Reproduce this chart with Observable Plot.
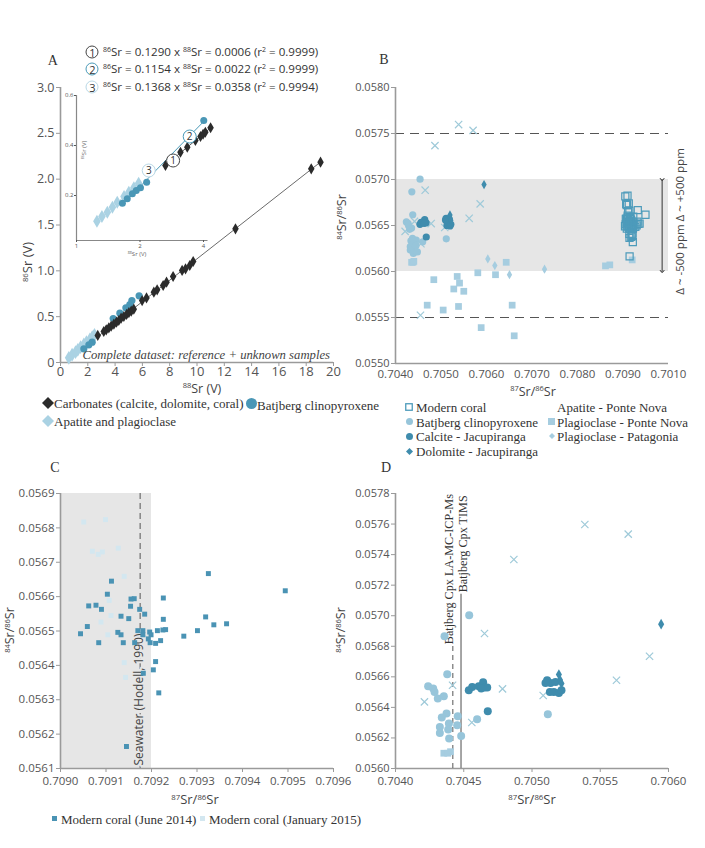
<!DOCTYPE html>
<html><head><meta charset="utf-8">
<script src="https://cdn.jsdelivr.net/npm/d3@7"></script>
<script src="https://cdn.jsdelivr.net/npm/@observablehq/plot@0.6"></script>
<style>
body{margin:0;background:#fff;}
#root{position:relative;width:705px;height:848px;overflow:hidden;font-family:"Open Sans",sans-serif;color:#444;}
.abs{position:absolute;white-space:nowrap;line-height:1;}
sup{font-size:0.6em;vertical-align:0;position:relative;top:-0.55em;}
</style></head><body><div id="root"></div>
<script>
// ---------- Panel A data ----------
const carbX = [2.73,3.17,3.35,3.54,3.71,3.91,4.10,4.27,4.44,4.64,4.84,5.01,5.18,5.37,5.98,6.30,6.84,7.08,7.52,7.77,8.25,8.91,9.16,9.47,9.72,12.82,18.37,19.05];
const carbY = [0.295,0.338,0.356,0.378,0.396,0.418,0.44,0.458,0.484,0.502,0.524,0.545,0.56,0.582,0.676,0.705,0.767,0.793,0.84,0.876,0.938,1.004,1.022,1.058,1.102,1.458,2.113,2.185];
const cpxAX = [1.71,2.08,2.32,3.86,4.35,4.79,5.08,5.23,5.76];
const cpxAY = [0.149,0.193,0.222,0.48,0.538,0.596,0.633,0.676,0.727];
const apAX = [0.61,0.85,1.10,1.27,1.47,1.71,1.90,2.15,2.32,2.49];
const apAY = [0.051,0.084,0.113,0.138,0.167,0.196,0.222,0.251,0.276,0.302];
// inset
const insApX = [1.25,1.32,1.40,1.48,1.56,1.68,1.77,1.87,1.97];
const insApY = [0.097,0.116,0.133,0.153,0.173,0.196,0.213,0.231,0.249];
const insCpxX = [1.65,1.74,1.84,1.92,2.01,2.15,4.01];
const insCpxY = [0.169,0.187,0.207,0.22,0.231,0.253,0.5];
const insCarbX = [2.64,3.11,3.35,3.66,3.87,3.98,4.08,4.32];
const insCarbY = [0.32,0.373,0.393,0.42,0.436,0.445,0.453,0.471];
const insLabelX = [2.87,3.44,2.20];
const insLabelY = [0.34,0.436,0.30];
const eqNums = ["1","2","3"];
const eqSlopes = ["0.1290","0.1154","0.1368"];
const eqInts = ["0.0006","0.0022","0.0358"];
const eqR2 = ["0.9999","0.9999","0.9994"];
const eqColors = ["#444","#4a9ab8","#b9d8e6"];
const xTicksA = [0,2,4,6,8,10,12,14,16,18,20];
const yTicksA = [0,0.5,1.0,1.5,2.0,2.5,3.0];
const insXTicks = [1,2,4];
const insYTicks = [0.2,0.4,0.6];
const insXDom = [1,4.2], insYDom = [0.02,0.6];

// ---------- Panels B / D data ----------
const cpxX = [0.704379,0.704239,0.704276,0.704286,0.70431,0.704354,0.704374,0.704339,0.704456,0.704391,0.704325,0.704386,0.704325,0.704452,0.704393,0.704481,0.704598,0.705116,0.70454,0.704359];
const cpxY = [0.056617,0.056539,0.056524,0.056501,0.056458,0.056473,0.05636,0.056334,0.056342,0.056295,0.056272,0.056255,0.056233,0.056283,0.056196,0.056213,0.056323,0.056355,0.057003,0.056866];
const calX = [0.704537,0.704562,0.70461,0.704642,0.704652,0.704672,0.704628,0.704676,0.705111,0.705136,0.705172,0.705131,0.70516,0.705197,0.705216,0.705099];
const calY = [0.056513,0.056534,0.056539,0.056565,0.05653,0.05653,0.056524,0.056375,0.056578,0.05656,0.056567,0.056501,0.056501,0.056495,0.056513,0.05656];
const dolX = [0.705197,0.705205,0.705216,0.705946];
const dolY = [0.056615,0.05658,0.056556,0.056945];
const apX = [0.705387,0.705705,0.704867,0.704652,0.705861,0.705619,0.704784,0.705082,0.704418,0.704212,0.704559,0.704549];
const apY = [0.057597,0.057534,0.057368,0.056884,0.056735,0.056578,0.056521,0.056478,0.056545,0.056436,0.056301,0.055524];
const plagX = [0.704354,0.704383,0.704403,0.704842,0.704697,0.705048,0.705281,0.705356,0.705407,0.705385,0.705501,0.705809,0.706198,0.705883,0.706564,0.706609,0.706433,0.708615,0.70871,0.709202];
const plagY = [0.0561,0.0561,0.05611,0.055911,0.055634,0.055581,0.05581,0.055946,0.055874,0.05562,0.055785,0.055986,0.055965,0.05539,0.055634,0.055301,0.0561,0.056061,0.056072,0.056126];
const patX = [0.706029,0.706183,0.706505,0.707275];
const patY = [0.056137,0.056065,0.055965,0.056025];
const bandB = [0.0560,0.0570];
const dashB = [0.0555,0.0575];
const arrowXB = 0.70986;
const xDomB = [0.704,0.710], yDomB = [0.055,0.058];
const xTicksB = [0.704,0.705,0.706,0.707,0.708,0.709,0.710];
const xTickLabelsB = ["0.7040","0.7050","0.7060","0.7070","0.7080","0.7090","0.7010"];
const yTicksB = [0.0550,0.0555,0.0560,0.0565,0.0570,0.0575,0.0580];
const xDomD = [0.704,0.706], yDomD = [0.056,0.0578];
const xTicksD = [0.704,0.7045,0.705,0.7055,0.706];
const yTicksD = [0.0560,0.0562,0.0564,0.0566,0.0568,0.0570,0.0572,0.0574,0.0576,0.0578];
const cpxLA = 0.70442, cpxTIMS = 0.70448;
const labelLAY = 0.056807, labelTIMSY = 0.05714;

// ---------- Panel C data ----------
const juneX = [0.709044,0.709059,0.709062,0.709078,0.70909,0.709084,0.709103,0.709112,0.709126,0.709133,0.709133,0.709138,0.70915,0.709154,0.709155,0.709162,0.709163,0.709174,0.709185,0.70917,0.709181,0.709181,0.709193,0.709196,0.709199,0.709209,0.709197,0.709213,0.70922,0.709226,0.709226,0.709225,0.709231,0.709271,0.709301,0.709319,0.709325,0.709337,0.709365,0.709494,0.709209,0.709204,0.709182,0.709145,0.709216];
const juneY = [0.056492,0.056513,0.056573,0.056575,0.056563,0.056466,0.056607,0.056645,0.056496,0.056489,0.056543,0.056466,0.056536,0.056572,0.056593,0.056594,0.056466,0.056563,0.056549,0.056501,0.056501,0.056489,0.056477,0.056497,0.056489,0.056464,0.056466,0.056501,0.056472,0.056596,0.056534,0.056503,0.056504,0.056485,0.056501,0.056541,0.056667,0.056518,0.056521,0.056617,0.056411,0.056387,0.056377,0.056164,0.05632];
const janX = [0.709051,0.709099,0.70907,0.709083,0.709092,0.709127,0.70914,0.709107,0.709111,0.709089,0.709104,0.70914,0.709143];
const janY = [0.056817,0.056824,0.056732,0.056723,0.05673,0.056741,0.056659,0.056589,0.056545,0.056526,0.056489,0.056408,0.056365];
const seawater = 0.709175, seaBand = [0.7090,0.7092];
const xDomC = [0.7090,0.7096], yDomC = [0.0561,0.0569];
const xTicksC = [0.7090,0.7091,0.7092,0.7093,0.7094,0.7095,0.7096];
const yTicksC = [0.0561,0.0562,0.0563,0.0564,0.0565,0.0566,0.0567,0.0568,0.0569];

// ---------- helpers ----------
const zip = (xs, ys) => xs.map((x, i) => ({x, y: ys[i]}));
const root = document.getElementById("root");
function put(el, left, top) { el.style.position = "absolute"; el.style.left = left + "px"; el.style.top = top + "px"; root.appendChild(el); return el; }
function html(s, left, top, style) { const d = document.createElement("div"); d.className = "abs"; d.innerHTML = s; Object.assign(d.style, style || {}); return put(d, left, top); }
const C = {dark:"#2b2b2b", cpxA:"#4a97b6", apA:"#aad2e3", cpx:"#97c5da", cal:"#3f8cad", ap:"#9fcad9", plag:"#a6cde0", coral:"#4d9bbb", june:"#4a93b4", jan:"#d3e7f0", axis:"#9a9a9a"};
const baseStyle = {fontFamily:"Open Sans", fontSize:"11px", color:"#555", background:"none", overflow:"visible"};
function sym(type, color, s) {
  const h = s / 2; let inner = "";
  if (type === "diamond") inner = `<polygon points="${h},0 ${s},${h} ${h},${s} 0,${h}" fill="${color}"/>`;
  if (type === "circle") inner = `<circle cx="${h}" cy="${h}" r="${h}" fill="${color}"/>`;
  if (type === "square") inner = `<rect x="0" y="0" width="${s}" height="${s}" fill="${color}"/>`;
  if (type === "osquare") inner = `<rect x="0.75" y="0.75" width="${s-1.5}" height="${s-1.5}" fill="none" stroke="${color}" stroke-width="1.3"/>`;
  return `<svg width="${s}" height="${s}" style="display:block">${inner}</svg>`;
}
function symAt(type, color, s, cx, cy) { return html(sym(type, color, s), cx - s / 2, cy - s / 2); }
const serifLbl = {fontSize:"14px", color:"#333", transform:"translate(-50%,-50%)", fontFamily:"Liberation Serif"};

// ---------- Panel A main ----------
const carb = zip(carbX, carbY), cpxA = zip(cpxAX, cpxAY), apA = zip(apAX, apAY);
const plotA = Plot.plot({
  width:345, height:330, marginLeft:60, marginRight:12, marginTop:17, marginBottom:38,
  x:{domain:[0,20]}, y:{domain:[0,3]}, style:baseStyle,
  marks:[
    Plot.ruleX([0], {stroke:C.axis, strokeWidth:1.6}),
    Plot.ruleY([0], {stroke:C.axis, strokeWidth:1.6}),
    Plot.axisX({ticks:xTicksA, tickSize:4, tickPadding:0, label:null, fontSize:13, stroke:C.axis}),
    Plot.axisY({ticks:yTicksA, tickSize:4, tickPadding:2, label:null, fontSize:12.5, stroke:C.axis, tickFormat:d => d === 0 ? "0" : d.toFixed(1)}),
    Plot.linearRegressionY(carb, {x:"x", y:"y", stroke:"#444", strokeWidth:0.8, ci:0}),
    Plot.dot(apA, {x:"x", y:"y", symbol:"diamond", r:4.2, fill:C.apA}),
    Plot.dot(cpxA, {x:"x", y:"y", r:3.6, fill:C.cpxA}),
    Plot.dot(carb, {x:"x", y:"y", symbol:"diamond", r:3.4, fill:C.dark})
  ]
});
put(plotA, 0, 70);

// ---------- inset ----------
const insAp = zip(insApX, insApY), insCpx = zip(insCpxX, insCpxY), insCarb = zip(insCarbX, insCarbY);
const insLab = insLabelX.map((x, i) => ({x, y: insLabelY[i], t: eqNums[i], c: eqColors[i]}));
const plotIns = Plot.plot({
  width:160, height:180, marginLeft:16, marginRight:12.5, marginTop:10, marginBottom:25,
  x:{type:"log", domain:insXDom}, y:{domain:insYDom}, style:{...baseStyle, fontSize:"6px"},
  marks:[
    Plot.ruleX([insXDom[0]], {stroke:"#888", strokeWidth:1.2}),
    Plot.ruleY([insYDom[0]], {stroke:"#888", strokeWidth:1.2}),
    Plot.axisX({ticks:insXTicks, tickSize:2, tickPadding:1, label:null, fontSize:6, tickFormat:d => String(d)}),
    Plot.axisY({ticks:insYTicks, tickSize:2, tickPadding:1, label:null, fontSize:6, tickFormat:d => d.toFixed(1)}),
    Plot.linearRegressionY(insAp, {x:"x", y:"y", stroke:"#b9d8e6", strokeWidth:1, ci:0}),
    Plot.linearRegressionY(insCpx, {x:"x", y:"y", stroke:"#4a9ab8", strokeWidth:1, ci:0}),
    Plot.linearRegressionY(insCarb, {x:"x", y:"y", stroke:"#333", strokeWidth:0.8, ci:0}),
    Plot.dot(insAp, {x:"x", y:"y", symbol:"diamond", r:4, fill:C.apA}),
    Plot.dot(insCpx, {x:"x", y:"y", r:3.5, fill:C.cpxA}),
    Plot.dot(insCarb, {x:"x", y:"y", symbol:"diamond", r:3.4, fill:C.dark}),
    Plot.dot(insLab, {x:"x", y:"y", r:6.5, fill:"white", stroke:"c", strokeWidth:1}),
    Plot.text(insLab, {x:"x", y:"y", text:"t", fontSize:10, fill:"#333"})
  ]
});
put(plotIns, 60, 85);
html(`<sup>88</sup>Sr (V)`, 137, 254, {fontSize:"6px", color:"#666", transform:"translate(-50%,-50%)"});
html(`<sup>86</sup>Sr (V)`, 84, 150, {fontSize:"6px", color:"#666", transform:"translate(-50%,-50%) rotate(-90deg)"});

// equations
eqNums.forEach((n, i) => {
  const cy = 51.7 + i * 17.5;
  html(n, 92.3, cy, {width:"13px", height:"13px", border:`1.2px solid ${eqColors[i]}`, borderRadius:"50%", boxSizing:"border-box", fontSize:"11px", display:"flex", alignItems:"center", justifyContent:"center", transform:"translate(-50%,-50%)", background:"#fff", color:"#333"});
  html(`<sup>86</sup>Sr = ${eqSlopes[i]} x <sup>88</sup>Sr = ${eqInts[i]} (r<sup>2</sup> = ${eqR2[i]})`, 103, cy, {fontSize:"11.6px", color:"#333", transform:"translateY(-50%)"});
});
html("A", 52.7, 61, serifLbl);
html(`<sup>88</sup>Sr (V)`, 202, 388.5, {fontSize:"12.5px", color:"#444", transform:"translate(-50%,-50%)"});
html(`<sup>86</sup>Sr (V)`, 27, 262, {fontSize:"13px", color:"#444", transform:"translate(-50%,-50%) rotate(-90deg)"});
html("Complete dataset: reference + unknown samples", 330, 355, {fontSize:"12.7px", fontStyle:"italic", color:"#444", transform:"translate(-100%,-50%)", fontFamily:"Liberation Serif"});
// legend A
const lgA = {fontSize:"13px", color:"#333", transform:"translateY(-50%)", fontFamily:"Liberation Serif"};
symAt("diamond", C.dark, 12, 47.5, 403);
html("Carbonates (calcite, dolomite, coral)", 54, 403, lgA);
symAt("circle", C.cpxA, 11, 251, 403);
html("Batjberg clinopyroxene", 257, 404.5, lgA);
symAt("diamond", C.apA, 12, 47.5, 421);
html("Apatite and plagioclase", 54, 421, lgA);

// ---------- Panel B ----------
const cpx = zip(cpxX, cpxY), cal = zip(calX, calY), dol = zip(dolX, dolY), ap = zip(apX, apY), plag = zip(plagX, plagY), pat = zip(patX, patY);
const june = zip(juneX, juneY), jan = zip(janX, janY), coral = june.concat(jan);
const plotB = Plot.plot({
  width:355, height:330, marginLeft:45, marginRight:37, marginTop:17, marginBottom:37,
  x:{domain:xDomB}, y:{domain:yDomB}, style:baseStyle,
  marks:[
    Plot.rect([{x1:xDomB[0], x2:xDomB[1], y1:bandB[0], y2:bandB[1]}], {x1:"x1", x2:"x2", y1:"y1", y2:"y2", fill:"#e6e6e6"}),
    Plot.ruleY(dashB, {stroke:"#555", strokeDasharray:"9,6", strokeWidth:1}),
    Plot.ruleX([xDomB[0]], {stroke:C.axis, strokeWidth:1.6}),
    Plot.ruleY([yDomB[0]], {stroke:C.axis, strokeWidth:1.6}),
    Plot.axisX({ticks:xTicksB, tickSize:0, tickPadding:6, label:null, fontSize:11.5, tickFormat:d => xTickLabelsB[xTicksB.indexOf(d)]}),
    Plot.axisY({ticks:yTicksB, tickSize:4, tickPadding:2, label:null, fontSize:11, stroke:C.axis, tickFormat:d => d.toFixed(4)}),
    Plot.link([{x:arrowXB, y1:bandB[1], y2:bandB[0]}], {x1:"x", x2:"x", y1:"y1", y2:"y2", stroke:"#333", strokeWidth:1, markerStart:"arrow", markerEnd:"arrow"}),
    Plot.text(["Δ ~ -500 ppm Δ ~ +500 ppm"], {x:() => arrowXB, y:() => (bandB[0] + bandB[1]) / 2, text:d => d, rotate:-90, dx:18, dy:-4, fontSize:11.5, fill:"#444"}),
    Plot.dot(plag, {x:"x", y:"y", symbol:"square", r:3.8, fill:C.plag}),
    Plot.dot(pat, {x:"x", y:"y", symbol:"diamond", r:2.8, fill:C.plag}),
    Plot.dot(ap, {x:"x", y:"y", symbol:"times", r:3.4, stroke:C.ap, fill:"none", strokeWidth:1.2}),
    Plot.dot(cpx, {x:"x", y:"y", r:3.6, fill:C.cpx}),
    Plot.dot(cal, {x:"x", y:"y", r:3.6, fill:C.cal}),
    Plot.dot(dol, {x:"x", y:"y", symbol:"diamond", r:2.8, fill:C.cal}),
    Plot.dot(coral, {x:"x", y:"y", symbol:"square", r:4, fill:"none", stroke:C.coral, strokeWidth:1.2})
  ]
});
put(plotB, 350, 70);
html("B", 384, 60, serifLbl);
html(`<sup>87</sup>Sr/<sup>86</sup>Sr`, 533, 391.5, {fontSize:"12.5px", color:"#444", transform:"translate(-50%,-50%)"});
html(`<sup>84</sup>Sr/<sup>86</sup>Sr`, 342, 217, {fontSize:"12.5px", color:"#444", transform:"translate(-50%,-50%) rotate(-90deg)"});
// legend B
const lgB = {fontSize:"13px", color:"#333", transform:"translateY(-50%)", fontFamily:"Liberation Serif"};
symAt("osquare", C.coral, 8, 409, 407); html("Modern coral", 416, 407, lgB);
symAt("circle", C.cpx, 7, 409, 421.5); html("Batjberg clinopyroxene", 416, 421.5, lgB);
symAt("circle", C.cal, 7, 409, 436); html("Calcite - Jacupiranga", 416, 436, lgB);
symAt("diamond", C.cal, 7, 409, 451); html("Dolomite - Jacupiranga", 416, 451, lgB);
html("Apatite - Ponte Nova", 557, 407, lgB);
symAt("square", C.plag, 7, 551.5, 421.5); html("Plagioclase - Ponte Nova", 557, 421.5, lgB);
symAt("diamond", C.plag, 6, 551.5, 436); html("Plagioclase - Patagonia", 557, 436, lgB);

// ---------- Panel C ----------
const plotC = Plot.plot({
  width:345, height:310, marginLeft:60, marginRight:12, marginTop:13, marginBottom:22,
  x:{domain:xDomC}, y:{domain:yDomC}, style:baseStyle,
  marks:[
    Plot.rect([{x1:seaBand[0], x2:seaBand[1], y1:yDomC[0], y2:yDomC[1]}], {x1:"x1", x2:"x2", y1:"y1", y2:"y2", fill:"#e6e6e6"}),
    Plot.ruleX([seawater], {stroke:"#555", strokeDasharray:"6,4", strokeWidth:1}),
    Plot.ruleX([xDomC[0]], {stroke:C.axis, strokeWidth:1.6}),
    Plot.ruleY([yDomC[0]], {stroke:C.axis, strokeWidth:1.6}),
    Plot.axisX({ticks:xTicksC, tickSize:4, tickPadding:4, label:null, fontSize:11.5, stroke:C.axis, tickFormat:d => d.toFixed(4)}),
    Plot.axisY({ticks:yTicksC, tickSize:4, tickPadding:2, label:null, fontSize:11.5, stroke:C.axis, tickFormat:d => d.toFixed(4)}),
    Plot.text(["Seawater (Hodell, 1990)"], {x:() => seawater, y:() => yDomC[0], text:d => d, rotate:-90, textAnchor:"start", dy:-3, dx:-1, fontSize:12, fill:"#444", stroke:"#e6e6e6", strokeWidth:4}),
    Plot.dot(jan, {x:"x", y:"y", symbol:"square", r:2.8, fill:C.jan}),
    Plot.dot(june, {x:"x", y:"y", symbol:"square", r:2.8, fill:C.june})
  ]
});
put(plotC, 0, 480);
html("C", 55, 468, serifLbl);
html(`<sup>87</sup>Sr/<sup>86</sup>Sr`, 195, 799, {fontSize:"13px", color:"#444", transform:"translate(-50%,-50%)"});
html(`<sup>84</sup>Sr/<sup>86</sup>Sr`, 10, 630, {fontSize:"12.5px", color:"#444", transform:"translate(-50%,-50%) rotate(-90deg)"});
symAt("square", C.june, 5, 54, 818.5); html("Modern coral (June 2014)", 61, 818.5, lgB);
symAt("square", C.jan, 5, 202, 818.5); html("Modern coral (January 2015)", 209, 818.5, lgB);

// ---------- Panel D ----------
const inD = d => d.x >= xDomD[0] && d.x <= xDomD[1] && d.y >= yDomD[0] && d.y <= yDomD[1];
const plotD = Plot.plot({
  width:355, height:310, marginLeft:45, marginRight:37, marginTop:13, marginBottom:22,
  x:{domain:xDomD}, y:{domain:yDomD}, style:baseStyle,
  marks:[
    Plot.ruleX([xDomD[0]], {stroke:C.axis, strokeWidth:1.6}),
    Plot.ruleY([yDomD[0]], {stroke:C.axis, strokeWidth:1.6}),
    Plot.axisX({ticks:xTicksD, tickSize:4, tickPadding:4, label:null, fontSize:11.5, stroke:C.axis, tickFormat:d => d.toFixed(4)}),
    Plot.axisY({ticks:yTicksD, tickSize:4, tickPadding:2, label:null, fontSize:11, stroke:C.axis, tickFormat:d => d.toFixed(4)}),
    Plot.ruleX([cpxLA], {y1:yDomD[0], y2:labelLAY, stroke:"#555", strokeDasharray:"5,4", strokeWidth:1}),
    Plot.ruleX([cpxTIMS], {y1:yDomD[0], y2:labelTIMSY, stroke:"#888", strokeWidth:1.5}),
    Plot.text(["Batjberg Cpx LA-MC-ICP-Ms"], {x:() => cpxLA, y:() => labelLAY, text:d => d, rotate:-90, textAnchor:"start", dx:-4, dy:-1, fontSize:12.2, fontFamily:"Liberation Serif", fill:"#333"}),
    Plot.text(["Batjberg Cpx TIMS"], {x:() => cpxTIMS, y:() => labelTIMSY, text:d => d, rotate:-90, textAnchor:"start", dx:2, dy:-2, fontSize:12.2, fontFamily:"Liberation Serif", fill:"#333"}),
    Plot.dot(plag.filter(inD), {x:"x", y:"y", symbol:"square", r:3.8, fill:C.plag}),
    Plot.dot(ap.filter(inD), {x:"x", y:"y", symbol:"times", r:3.4, stroke:C.ap, fill:"none", strokeWidth:1.2}),
    Plot.dot(cpx.filter(inD), {x:"x", y:"y", r:4, fill:C.cpx}),
    Plot.dot(cal.filter(inD), {x:"x", y:"y", r:4, fill:C.cal}),
    Plot.dot(dol.filter(inD), {x:"x", y:"y", symbol:"diamond", r:3.2, fill:C.cal})
  ]
});
put(plotD, 350, 480);
html("D", 386, 468, serifLbl);
html(`<sup>87</sup>Sr/<sup>86</sup>Sr`, 532, 799, {fontSize:"13px", color:"#444", transform:"translate(-50%,-50%)"});
html(`<sup>84</sup>Sr/<sup>86</sup>Sr`, 341, 630, {fontSize:"12.5px", color:"#444", transform:"translate(-50%,-50%) rotate(-90deg)"});
</script></body></html>
